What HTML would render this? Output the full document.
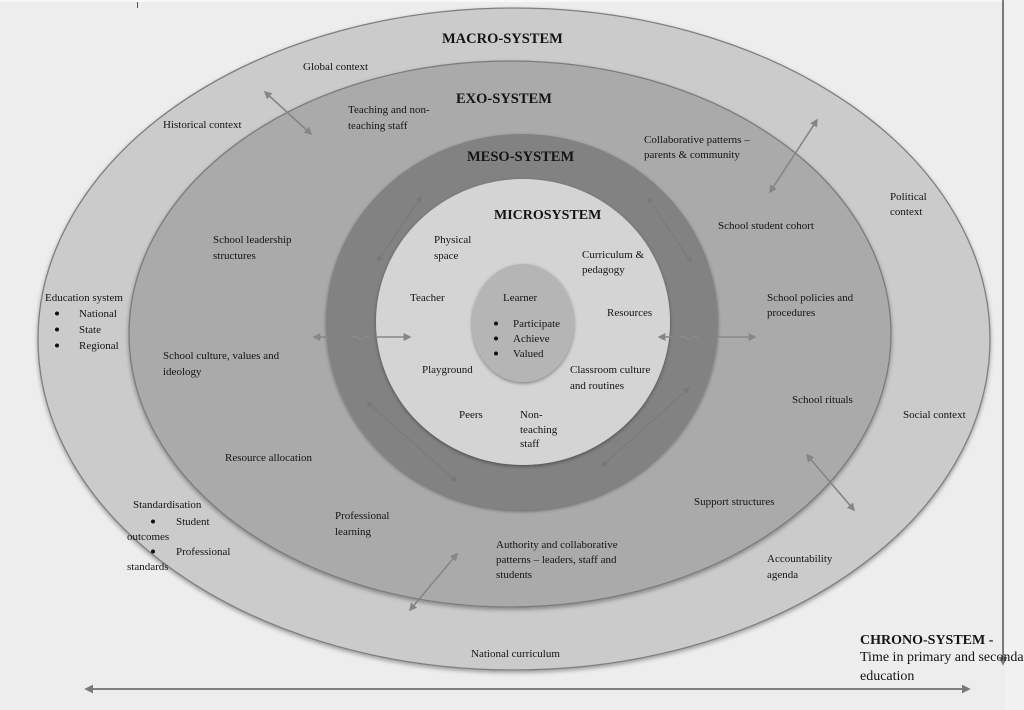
<!DOCTYPE html>
<html><head><meta charset="utf-8">
<style>
html,body{margin:0;padding:0;width:1024px;height:710px;overflow:hidden;background:#ededed;}
svg{display:block;}
text{font-family:"Liberation Serif","Times New Roman",serif;fill:#141414;}
.t{font-size:11px;}
.b{font-size:14.5px;font-weight:bold;}
</style></head>
<body>
<svg width="1024" height="710" viewBox="0 0 1024 710" xmlns="http://www.w3.org/2000/svg">
<defs>
  <filter id="sh" x="-10%" y="-10%" width="120%" height="125%">
    <feDropShadow dx="0" dy="2" stdDeviation="2.2" flood-color="#000" flood-opacity="0.35"/>
  </filter>
  <filter id="sh2" x="-10%" y="-10%" width="120%" height="125%">
    <feDropShadow dx="0" dy="1.5" stdDeviation="1.8" flood-color="#000" flood-opacity="0.4"/>
  </filter>
  <marker id="ah" viewBox="0 0 10 10" refX="8" refY="5" markerWidth="8" markerHeight="8" markerUnits="userSpaceOnUse" orient="auto-start-reverse">
    <path d="M0,0 L10,5 L0,10 z" fill="#868686"/>
  </marker>
  <marker id="ahd" viewBox="0 0 10 10" refX="8" refY="5" markerWidth="9" markerHeight="9" markerUnits="userSpaceOnUse" orient="auto-start-reverse">
    <path d="M0,0 L10,5 L0,10 z" fill="#7a7a7a"/>
  </marker>
  <marker id="ahf" viewBox="0 0 10 10" refX="8" refY="5" markerWidth="6" markerHeight="6" markerUnits="userSpaceOnUse" orient="auto-start-reverse">
    <path d="M0,0 L10,5 L0,10 z" fill="#767676"/>
  </marker>
</defs>

<!-- background bands -->
<rect x="0" y="0" width="1024" height="710" fill="#ededed"/>
<rect x="0" y="0" width="1024" height="2" fill="#f8f8f8"/>
<rect x="1005" y="0" width="19" height="710" fill="#f1f1f1"/>
<line x1="137.5" y1="2" x2="137.5" y2="8" stroke="#555" stroke-width="1"/>

<!-- chrono vertical -->
<line x1="1003" y1="0" x2="1003" y2="664" stroke="#7a7a7a" stroke-width="2" marker-end="url(#ahd)"/>

<!-- macro -->
<ellipse cx="514" cy="339" rx="476" ry="331" fill="#cbcbcb" stroke="#7f7f7f" stroke-width="1.3" filter="url(#sh)"/>
<!-- exo -->
<ellipse cx="510" cy="334" rx="381" ry="273" fill="#aaaaaa" stroke="#7b7b7b" stroke-width="1.3" filter="url(#sh)"/>
<!-- meso -->
<ellipse cx="522" cy="322" rx="196" ry="188" fill="#828282" filter="url(#sh2)"/>
<!-- micro -->
<ellipse cx="523" cy="322" rx="147" ry="143" fill="#d4d4d4" filter="url(#sh2)"/>
<!-- learner -->
<ellipse cx="523" cy="323" rx="51" ry="59" fill="#b5b5b5" filter="url(#sh2)"/>

<!-- faint diagonal arrows in meso ring -->
<g stroke="#777" stroke-width="1" fill="none" opacity="0.8">
  <line x1="378" y1="261" x2="421" y2="197" marker-start="url(#ahf)" marker-end="url(#ahf)"/>
  <line x1="648" y1="198" x2="691" y2="262" marker-start="url(#ahf)" marker-end="url(#ahf)"/>
  <line x1="367" y1="402" x2="456" y2="481" marker-start="url(#ahf)" marker-end="url(#ahf)"/>
  <line x1="689" y1="388" x2="602" y2="466" marker-start="url(#ahf)" marker-end="url(#ahf)"/>
</g>

<!-- horizontal arrows at meso -->
<g stroke="#888" stroke-width="1.6" fill="none">
  <line x1="314" y1="337" x2="328" y2="337" marker-start="url(#ah)"/>
  <line x1="376" y1="337" x2="410" y2="337" marker-end="url(#ah)"/>
  <path d="M352,338 q3,-3 6,0 t6,0 t6,0" stroke="#8e8e8e" stroke-width="1"/>
  <line x1="659" y1="337" x2="672" y2="337" marker-start="url(#ah)"/>
  <line x1="718" y1="337" x2="755" y2="337" marker-end="url(#ah)"/>
  <path d="M680,338 q3,-3 6,0 t6,0 t6,0" stroke="#8e8e8e" stroke-width="1"/>
</g>

<!-- diagonal double arrows -->
<g stroke="#858585" stroke-width="1.6" fill="none">
  <line x1="265" y1="92" x2="311" y2="134" marker-start="url(#ah)" marker-end="url(#ah)"/>
  <line x1="817" y1="120" x2="770" y2="192" marker-start="url(#ah)" marker-end="url(#ah)"/>
  <line x1="457" y1="554" x2="410" y2="610" marker-start="url(#ah)" marker-end="url(#ah)"/>
  <line x1="807" y1="455" x2="854" y2="510" marker-start="url(#ah)" marker-end="url(#ah)"/>
</g>

<!-- bottom horizontal chrono arrow -->
<line x1="86" y1="689" x2="969" y2="689" stroke="#7f7f7f" stroke-width="2" marker-start="url(#ahd)" marker-end="url(#ahd)"/>

<!-- bullets -->
<g fill="#111">
  <circle cx="57" cy="313.5" r="2"/>
  <circle cx="57" cy="329.5" r="2"/>
  <circle cx="57" cy="345.5" r="2"/>
  <circle cx="496" cy="323.5" r="2"/>
  <circle cx="496" cy="338.5" r="2"/>
  <circle cx="496" cy="353.5" r="2"/>
  <circle cx="153" cy="521.5" r="2"/>
  <circle cx="153" cy="551.5" r="2"/>
</g>

<!-- headings -->
<text class="b" x="442" y="43">MACRO-SYSTEM</text>
<text class="b" x="456" y="103">EXO-SYSTEM</text>
<text class="b" x="467" y="161">MESO-SYSTEM</text>
<text class="b" x="494" y="219" style="font-size:14px">MICROSYSTEM</text>

<!-- macro labels -->
<text class="t" x="303" y="70">Global context</text>
<text class="t" x="163" y="128">Historical context</text>
<text class="t" x="890" y="200">Political</text>
<text class="t" x="890" y="215">context</text>
<text class="t" x="45" y="301">Education system</text>
<text class="t" x="79" y="317">National</text>
<text class="t" x="79" y="333">State</text>
<text class="t" x="79" y="349">Regional</text>
<text class="t" x="903" y="418">Social context</text>
<text class="t" x="133" y="508">Standardisation</text>
<text class="t" x="176" y="525">Student</text>
<text class="t" x="127" y="540">outcomes</text>
<text class="t" x="176" y="555">Professional</text>
<text class="t" x="127" y="570">standards</text>
<text class="t" x="767" y="562">Accountability</text>
<text class="t" x="767" y="578">agenda</text>
<text class="t" x="471" y="657">National curriculum</text>

<!-- exo labels -->
<text class="t" x="348" y="113">Teaching and non-</text>
<text class="t" x="348" y="129">teaching staff</text>
<text class="t" x="644" y="143">Collaborative patterns –</text>
<text class="t" x="644" y="158">parents &amp; community</text>
<text class="t" x="718" y="229">School student cohort</text>
<text class="t" x="213" y="243">School leadership</text>
<text class="t" x="213" y="259">structures</text>
<text class="t" x="767" y="301">School policies and</text>
<text class="t" x="767" y="316">procedures</text>
<text class="t" x="163" y="359">School culture, values and</text>
<text class="t" x="163" y="375">ideology</text>
<text class="t" x="792" y="403">School rituals</text>
<text class="t" x="225" y="461">Resource allocation</text>
<text class="t" x="694" y="505">Support structures</text>
<text class="t" x="335" y="519">Professional</text>
<text class="t" x="335" y="535">learning</text>
<text class="t" x="496" y="548">Authority and collaborative</text>
<text class="t" x="496" y="563">patterns – leaders, staff and</text>
<text class="t" x="496" y="578">students</text>

<!-- micro labels -->
<text class="t" x="434" y="243">Physical</text>
<text class="t" x="434" y="259">space</text>
<text class="t" x="582" y="258">Curriculum &amp;</text>
<text class="t" x="582" y="273">pedagogy</text>
<text class="t" x="410" y="301">Teacher</text>
<text class="t" x="503" y="301">Learner</text>
<text class="t" x="607" y="316">Resources</text>
<text class="t" x="513" y="327">Participate</text>
<text class="t" x="513" y="342">Achieve</text>
<text class="t" x="513" y="357">Valued</text>
<text class="t" x="422" y="373">Playground</text>
<text class="t" x="570" y="373">Classroom culture</text>
<text class="t" x="570" y="389">and routines</text>
<text class="t" x="459" y="418">Peers</text>
<text class="t" x="520" y="418">Non-</text>
<text class="t" x="520" y="433">teaching</text>
<text class="t" x="520" y="447">staff</text>

<!-- chrono -->
<text x="860" y="644" style="font-size:14px;font-weight:bold">CHRONO-SYSTEM -</text>
<text x="860" y="661" style="font-size:14px">Time in primary and secondary</text>
<text x="860" y="680" style="font-size:14px">education</text>
</svg>
</body></html>
